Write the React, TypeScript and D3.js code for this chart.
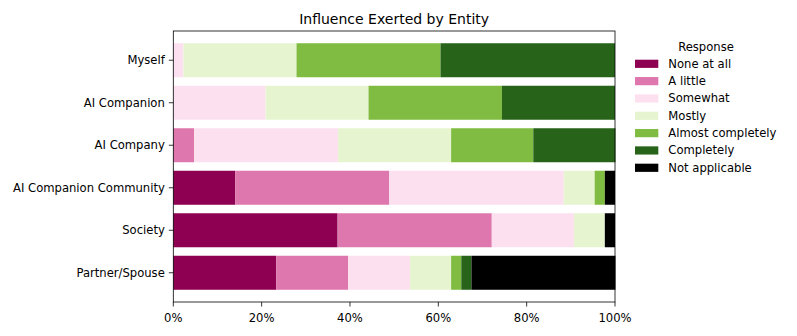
import React, { useEffect, useRef } from 'react';
import * as d3 from 'd3';

// entities, top to bottom
const categories = ['Myself', 'AI Companion', 'AI Company', 'AI Companion Community', 'Society', 'Partner/Spouse'];

const responses = ['None at all', 'A little', 'Somewhat', 'Mostly', 'Almost completely', 'Completely', 'Not applicable'];
const responseColors = ['#8e0152', '#de77ae', '#fde0ef', '#e6f5d0', '#7fbc41', '#276419', '#000000'];

// percent of respondents, one array per response, in category order
const noneAtAll = [0, 0, 0, 14.0, 37.2, 23.3];
const aLittle = [0, 0, 4.7, 34.9, 34.9, 16.3];
const somewhat = [2.3, 20.9, 32.6, 39.5, 18.6, 14.0];
const mostly = [25.6, 23.3, 25.6, 7.0, 7.0, 9.3];
const almostCompletely = [32.6, 30.2, 18.6, 2.3, 0, 2.3];
const completely = [39.5, 25.6, 18.6, 0, 0, 2.3];
const notApplicable = [0, 0, 0, 2.3, 2.3, 32.6];

const series = [noneAtAll, aLittle, somewhat, mostly, almostCompletely, completely, notApplicable];

const xTicks = [0, 20, 40, 60, 80, 100];

const W = 797;
const H = 336;
const FONT = 'DejaVu Sans, sans-serif';

const App = () => {
  const svgRef = useRef<SVGSVGElement>(null);

  useEffect(() => {
    const svg = d3.select(svgRef.current);
    svg.selectAll('*').remove();

    const left = 173.3, right = 615, top = 31, bottom = 302;

    const x = d3.scaleLinear().domain([0, 100]).range([left, right]);
    const y = d3.scaleBand<string>()
      .domain(categories)
      .range([top, bottom])
      .paddingInner(0.2)
      .paddingOuter(0.288);

    svg.append('rect').attr('width', W).attr('height', H).attr('fill', 'white');

    // stacked bars
    categories.forEach((cat, ci) => {
      let acc = 0;
      series.forEach((vals, si) => {
        const v = vals[ci];
        if (v > 0) {
          svg.append('rect')
            .attr('x', x(acc))
            .attr('y', y(cat)!)
            .attr('width', x(acc + v) - x(acc))
            .attr('height', y.bandwidth())
            .attr('fill', responseColors[si]);
        }
        acc += v;
      });
    });

    // spines
    svg.append('rect')
      .attr('x', left).attr('y', top)
      .attr('width', right - left).attr('height', bottom - top)
      .attr('fill', 'none').attr('stroke', 'black').attr('stroke-width', 0.8);

    // x ticks
    const xg = svg.append('g');
    xTicks.forEach(t => {
      xg.append('line')
        .attr('x1', x(t)).attr('x2', x(t))
        .attr('y1', bottom).attr('y2', bottom + 4.5)
        .attr('stroke', 'black').attr('stroke-width', 0.8);
      xg.append('text')
        .attr('x', x(t)).attr('y', bottom + 19.5)
        .attr('text-anchor', 'middle')
        .attr('font-family', FONT).attr('font-size', 11.6)
        .text(`${t}%`);
    });

    // y ticks
    categories.forEach(cat => {
      const cy = y(cat)! + y.bandwidth() / 2;
      svg.append('line')
        .attr('x1', left - 4.5).attr('x2', left)
        .attr('y1', cy).attr('y2', cy)
        .attr('stroke', 'black').attr('stroke-width', 0.8);
      svg.append('text')
        .attr('x', left - 8.5).attr('y', cy)
        .attr('dy', '0.35em')
        .attr('text-anchor', 'end')
        .attr('font-family', FONT).attr('font-size', 11.6)
        .text(cat);
    });

    // title
    svg.append('text')
      .attr('x', (left + right) / 2).attr('y', 23.5)
      .attr('text-anchor', 'middle')
      .attr('font-family', FONT).attr('font-size', 14)
      .text('Influence Exerted by Entity');

    // legend
    const lg = svg.append('g');
    lg.append('text')
      .attr('x', 706).attr('y', 46.7)
      .attr('dy', '0.35em')
      .attr('text-anchor', 'middle')
      .attr('font-family', FONT).attr('font-size', 11.6)
      .text('Response');
    responses.forEach((r, i) => {
      const cy = 63.7 + i * 17.33;
      lg.append('rect')
        .attr('x', 635).attr('y', cy - 4)
        .attr('width', 23.3).attr('height', 8.2)
        .attr('fill', responseColors[i]);
      lg.append('text')
        .attr('x', 668.3).attr('y', cy)
        .attr('dy', '0.35em')
        .attr('font-family', FONT).attr('font-size', 11.6)
        .text(r);
    });
  }, []);

  return (
    <svg
      ref={svgRef}
      width={W}
      height={H}
      style={{ position: 'absolute', left: 0, top: 0, display: 'block' }}
    />
  );
};

export default App;
